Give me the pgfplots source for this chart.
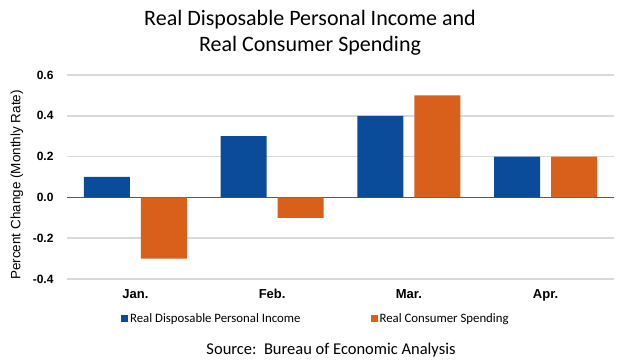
\documentclass[border=0pt]{standalone}
\usepackage{fontspec}
\setmainfont{Carlito}
\newfontfamily\arialf{Liberation Sans}
\usepackage{pgfplots}
\pgfplotsset{compat=1.18}
\definecolor{bluebar}{RGB}{11,76,154}
\definecolor{orangebar}{RGB}{217,96,26}
\definecolor{gridc}{RGB}{217,217,217}
\begin{document}
\begin{tikzpicture}
\useasboundingbox (0pt,0pt) rectangle (623pt,363pt);
\node[font=\fontsize{22}{26}\selectfont, align=center] at (310pt,330pt) {Real Disposable Personal Income and\\Real Consumer Spending};
\node[font=\fontsize{16.5}{18}\selectfont] at (331pt,13pt) {Source:\ \ Bureau of Economic Analysis};
\begin{axis}[
  at={(67pt,84pt)}, anchor=south west,
  scale only axis, width=547pt, height=204pt,
  ybar=11pt, bar width=46pt,
  xmin=-0.5, xmax=3.5, ymin=-0.4, ymax=0.6,
  xtick={0,1,2,3}, xticklabels={Jan.,Feb.,Mar.,Apr.},
  ytick={-0.4,-0.2,0,0.2,0.4,0.6},
  axis line style={draw=none},
  major tick length=0pt,
  ymajorgrids, grid style={gridc, line width=1.5pt},
  extra y ticks={0}, extra y tick labels={},
  extra y tick style={grid style={black!65, line width=1.2pt}},
  /pgf/number format/assume math mode=true,
  yticklabel style={font=\arialf\bfseries\fontsize{12}{12}\selectfont, xshift=-10pt, /pgf/number format/.cd, fixed, fixed zerofill, precision=1},
  yticklabel={\pgfmathprintnumber{\tick}},
  xticklabel style={font=\arialf\bfseries\fontsize{13}{14}\selectfont, yshift=-7pt},
  ylabel={Percent Change (Monthly Rate)},
  every axis y label/.style={at={(axis description cs:-0.0914,0.461)}, rotate=90, anchor=center, font=\arialf\fontsize{13.5}{15}\selectfont},
  legend columns=2,
  legend style={draw=none, at={(0.455,-0.196)}, anchor=center, font=\fontsize{12.8}{14}\selectfont, /tikz/every even column/.append style={column sep=68pt}},
  legend image code/.code={\fill[#1] (0pt,-3.5pt) rectangle (7pt,3.5pt);},
  clip=false,
]
\addplot[fill=bluebar, draw=none] coordinates {(0,0.1) (1,0.3) (2,0.4) (3,0.2)};
\addplot[fill=orangebar, draw=none] coordinates {(0,-0.3) (1,-0.1) (2,0.5) (3,0.2)};
\legend{Real Disposable Personal Income, Real Consumer Spending}
\end{axis}
\end{tikzpicture}
\end{document}
